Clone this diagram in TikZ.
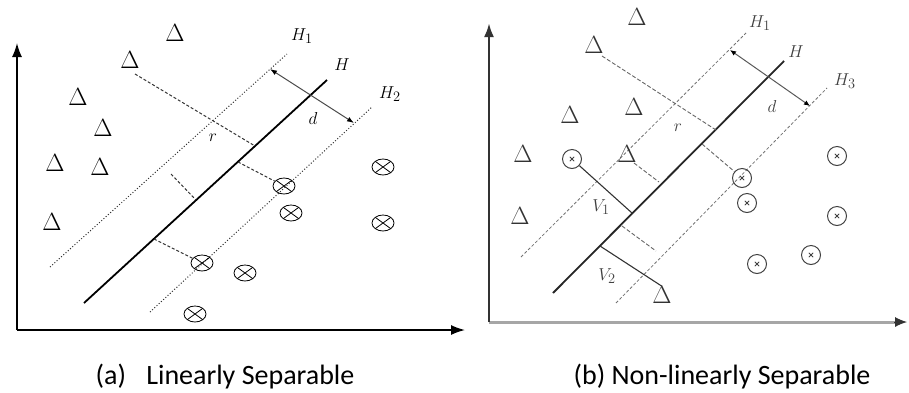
\documentclass[tikz,border=0pt]{standalone}
\usepackage[no-math]{fontspec}
\newfontfamily\capfont{Carlito}
\usetikzlibrary{arrows.meta,shapes.geometric}
\tikzset{
  tri/.style={inner sep=0pt,font=\fontsize{25}{25}\selectfont},
  trir/.style={tri,text=black!80},
  oxl/.style={ellipse,draw,line width=0.8pt,minimum width=22pt,minimum height=16pt,inner sep=0pt,
    path picture={\draw[line width=0.8pt]
      ([shift={(-7.8pt,-5.7pt)}]path picture bounding box.center) -- ([shift={(7.8pt,5.7pt)}]path picture bounding box.center)
      ([shift={(-7.8pt,5.7pt)}]path picture bounding box.center) -- ([shift={(7.8pt,-5.7pt)}]path picture bounding box.center);}},
  oxr/.style={circle,draw=black!75,line width=1pt,minimum size=19pt,inner sep=0pt,
    path picture={\draw[black!75,line width=0.8pt]
      ([shift={(-2.2pt,-2.2pt)}]path picture bounding box.center) -- ([shift={(2.2pt,2.2pt)}]path picture bounding box.center)
      ([shift={(-2.2pt,2.2pt)}]path picture bounding box.center) -- ([shift={(2.2pt,-2.2pt)}]path picture bounding box.center);}},
  lbl/.style={inner sep=0pt,font=\fontsize{19}{19}\selectfont},
  lblr/.style={lbl,text=black!75},
  hyp/.style={line width=1.8pt},
  marg/.style={dotted,line width=1pt,black!80},
  margr/.style={dashed,dash pattern=on 3pt off 2pt,line width=0.8pt,black!55},
  perp/.style={dash pattern=on 3pt off 2pt,line width=1pt,black!80},
  perpr/.style={dash pattern=on 4pt off 2pt,line width=0.9pt,black!60},
  axl/.style={line width=1.5pt,-{Latex[length=14pt,width=10pt]}},
  captext/.style={inner sep=0pt,anchor=base,font=\capfont\fontsize{28}{28}\selectfont}
}
\begin{document}
\begin{tikzpicture}[x=1pt,y=-1pt]
\useasboundingbox (0,0) rectangle (909,392);
% ================= left panel =================
\coordinate (LO) at (17,330);
\coordinate (LY) at (17,43);
\coordinate (LX) at (465,330);
\draw[axl] (LO) -- (LY);
\draw[axl] (LO) -- (LX);
% hyperplanes
\coordinate (LH0) at (84,303);   \coordinate (LH1) at (327,80);
\coordinate (LA0) at (50,267);   \coordinate (LA1) at (287,54);
\coordinate (LB0) at (150,312);  \coordinate (LB1) at (372,107);
\draw[hyp] (LH0) -- (LH1);
\draw[marg] (LA0) -- (LA1);
\draw[marg] (LB0) -- (LB1);
% triangles
\node[tri] (lt1) at (175,33) {$\Delta$};
\node[tri] (lt2) at (130,60) {$\Delta$};
\node[tri] (lt3) at (78,97) {$\Delta$};
\node[tri] (lt4) at (103,128) {$\Delta$};
\node[tri] (lt5) at (55,163) {$\Delta$};
\node[tri] (lt6) at (100,167) {$\Delta$};
\node[tri] (lt7) at (52,222) {$\Delta$};
% otimes
\node[oxl] (lo1) at (383,167) {};
\node[oxl] (lo2) at (284,186) {};
\node[oxl] (lo3) at (291,213) {};
\node[oxl] (lo4) at (383,223) {};
\node[oxl] (lo5) at (202,263) {};
\node[oxl] (lo6) at (245,273) {};
\node[oxl] (lo7) at (195,314) {};
% perpendiculars
\coordinate (lr0) at (135,74);  \coordinate (lr1) at (255,146);
\draw[perp] (lr0) -- (lr1);
\coordinate (lp0) at (238,162);
\draw[perp] (lp0) -- (lo2);
\coordinate (lq0) at (171,174); \coordinate (lq1) at (196,200);
\draw[perp] (lq0) -- (lq1);
\coordinate (ls0) at (154,239);
\draw[perp] (ls0) -- (lo5);
% margin arrow
\coordinate (ld0) at (270,69); \coordinate (ld1) at (354,123);
\draw[black!70,line width=1pt,{Latex[length=7pt,width=5pt,black]}-{Latex[length=7pt,width=5pt,black]}] (ld0) -- (ld1);
% labels
\node[lbl] (lH1) at (302,36) {$H_{\scriptstyle 1}$};
\node[lbl] (lH) at (342,65) {$H$};
\node[lbl] (lH2) at (390,94) {$H_{\scriptstyle 2}$};
\node[lbl] (ld) at (313,118) {$d$};
\node[lbl] (lr) at (213,138) {$r$};
% ================= right panel =================
\coordinate (RO) at (489,322);
\coordinate (RY) at (489,23);
\coordinate (RX) at (907,322);
\draw[line width=3pt,black!35] (RO) -- ([xshift=-12pt]RX);
\draw[line width=2.6pt,black!80,-{Latex[length=14pt,width=10pt]}] (RO) -- (RY);
\draw[line width=1pt,black!80,-{Latex[length=12pt,width=10pt]}] ([xshift=-13pt]RX) -- (RX);
% hyperplanes
\coordinate (RH0) at (553,293);  \coordinate (RH1) at (784,61);
\coordinate (RA0) at (521,257);  \coordinate (RA1) at (746,33);
\coordinate (RB0) at (616,303);  \coordinate (RB1) at (827,88);
\draw[hyp,black!85] (RH0) -- (RH1);
\draw[margr] (RA0) -- (RA1);
\draw[margr] (RB0) -- (RB1);
% triangles
\node[trir] (rt1) at (637,17) {$\Delta$};
\node[trir] (rt2) at (594,45) {$\Delta$};
\node[trir] (rt3) at (570,115) {$\Delta$};
\node[trir] (rt4) at (634,107) {$\Delta$};
\node[trir] (rt5) at (523,154) {$\Delta$};
\node[trir] (rt6) at (627,154) {$\Delta$};
\node[trir] (rt7) at (520,216) {$\Delta$};
\node[trir] (rt8) at (662,295) {$\Delta$};
% otimes
\node[oxr] (ro1) at (572,159) {};
\node[oxr] (ro2) at (837,156) {};
\node[oxr] (ro3) at (742,178) {};
\node[oxr] (ro4) at (747,203) {};
\node[oxr] (ro5) at (837,216) {};
\node[oxr] (ro6) at (811,255) {};
\node[oxr] (ro7) at (757,264) {};
% perpendiculars
\coordinate (rr0) at (602,56);  \coordinate (rr1) at (716,130);
\draw[perpr] (rr0) -- (rr1);
\coordinate (rp0) at (702,144);
\draw[perpr] (rp0) -- (ro3);
\coordinate (rq0) at (634,163); \coordinate (rq1) at (659,182);
\draw[perpr] (rq0) -- (rq1);
\coordinate (rs0) at (622,226); \coordinate (rs1) at (656,251);
\draw[perpr] (rs0) -- (rs1);
% support vectors
\coordinate (rv1) at (632,213);
\draw[line width=1.1pt,black!80] (ro1) -- (rv1);
\coordinate (rv2) at (600,246);
\draw[line width=1.1pt,black!80] (rv2) -- (rt8.north);
% margin arrow
\coordinate (rd0) at (730,50); \coordinate (rd1) at (810,106);
\draw[black!65,line width=1pt,{Latex[length=6pt,width=5pt,black]}-{Latex[length=6pt,width=5pt,black]}] (rd0) -- (rd1);
% labels
\node[lblr] (rH1) at (760,23) {$H_{\scriptstyle 1}$};
\node[lblr] (rH) at (796,52) {$H$};
\node[lblr] (rH3) at (845,81) {$H_{\scriptstyle 3}$};
\node[lblr] (rd) at (772,106) {$d$};
\node[lblr] (rr) at (678,128) {$r$};
\node[lblr] (rV1) at (601,207) {$V_{\scriptstyle 1}$};
\node[lblr] (rV2) at (607,276) {$V_{\scriptstyle 2}$};
% ================= captions =================
\node[captext] (capa) at (225,384) {(a)\hspace{0.5em} Linearly Separable};
\node[captext] (capb) at (722,384) {(b) Non-linearly Separable};
\end{tikzpicture}
\end{document}
